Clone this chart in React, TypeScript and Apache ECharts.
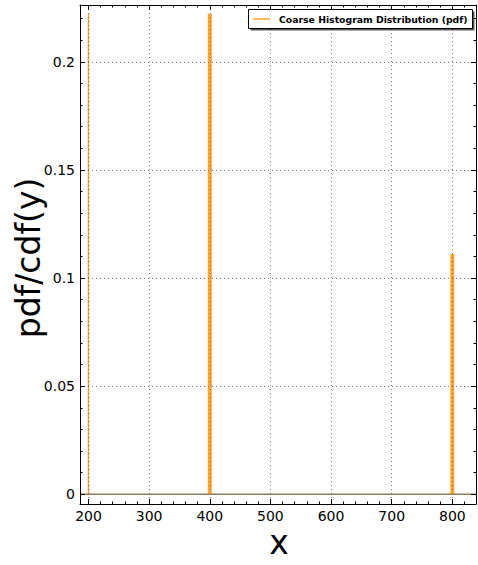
import React, { useEffect, useRef } from "react";
import * as echarts from "echarts";

// Data
const binCenters: number[] = [200, 400, 800];
const pdfValues: number[] = [0.2222, 0.2222, 0.1111];
const seriesName = "Coarse Histogram Distribution (pdf)";
const xRange: number[] = [186, 839];
const yRange: number[] = [-0.0045, 0.2263];
const xTitle = "x";
const yTitle = "pdf/cdf(y)";

const ORANGE = "#ff8c00";
const FONT = "DejaVu Sans";

export default function App() {
  const ref = useRef<HTMLDivElement>(null);
  useEffect(() => {
    if (!ref.current) return;
    const chart = echarts.init(ref.current, undefined, { renderer: "svg" });
    const gridLine = { show: true, lineStyle: { color: "#777", type: [1, 3] as any, width: 1 } };
    const axisLineBlack = { show: true, onZero: false, lineStyle: { color: "#000", width: 1 } };
    const majorTick = { show: true, inside: true, length: 5, lineStyle: { color: "#000" } };
    const minorTick = { show: true, splitNumber: 5, length: 2.5, lineStyle: { color: "#000" } };

    const data = binCenters.map((x, i) => [x, pdfValues[i]]);

    chart.setOption({
      animation: false,
      backgroundColor: "#fff",
      grid: { left: 80, right: 2, top: 5, bottom: 61, containLabel: false },
      xAxis: [
        {
          type: "value",
          position: "bottom",
          min: xRange[0],
          max: xRange[1],
          splitNumber: 6,
          axisLine: axisLineBlack,
          axisTick: majorTick,
          minorTick: minorTick,
          splitLine: gridLine,
          axisLabel: {
            show: true,
            color: "#000",
            fontFamily: FONT,
            fontSize: 14,
            margin: 5,
            showMinLabel: false,
            showMaxLabel: false,
          },
        },
        {
          type: "value",
          position: "top",
          min: xRange[0],
          max: xRange[1],
          splitNumber: 6,
          axisLine: axisLineBlack,
          axisTick: majorTick,
          minorTick: minorTick,
          splitLine: { show: false },
          axisLabel: { show: false },
        },
      ],
      yAxis: [
        {
          type: "value",
          position: "left",
          min: yRange[0],
          max: yRange[1],
          splitNumber: 5,
          axisLine: axisLineBlack,
          axisTick: majorTick,
          minorTick: minorTick,
          splitLine: gridLine,
          axisLabel: {
            show: true,
            color: "#000",
            fontFamily: FONT,
            fontSize: 14,
            margin: 5,
            showMinLabel: false,
            showMaxLabel: false,
          },
        },
        {
          type: "value",
          position: "right",
          min: yRange[0],
          max: yRange[1],
          splitNumber: 5,
          axisLine: axisLineBlack,
          axisTick: majorTick,
          minorTick: minorTick,
          splitLine: { show: false },
          axisLabel: { show: false },
        },
      ],
      series: [
        {
          name: seriesName,
          type: "custom",
          xAxisIndex: 0,
          yAxisIndex: 0,
          z: -1,
          data,
          renderItem: (params: any, api: any) => {
            const top = api.coord([api.value(0), api.value(1)]);
            const base = api.coord([api.value(0), 0]);
            const w = params.dataIndex === 0 ? 1.5 : 4;
            const children: any[] = [
              {
                type: "rect",
                shape: { x: top[0] - w / 2, y: top[1], width: w, height: base[1] - top[1] },
                style: { fill: "rgba(255,140,0,0.8)", stroke: null },
              },
            ];
            if (params.dataIndex === 0) {
              const cs = params.coordSys;
              children.push({
                type: "line",
                shape: { x1: cs.x, y1: base[1], x2: cs.x + cs.width, y2: base[1] },
                style: { stroke: "#9a7b58", lineWidth: 1.5 },
              });
            }
            return { type: "group", children };
          },
        },
      ],
      graphic: [
        {
          type: "rect",
          z: 10,
          shape: { x: 250.5, y: 11.5, width: 224, height: 19 },
          style: { fill: "rgba(0,0,0,0.65)" },
        },
        {
          type: "rect",
          z: 11,
          shape: { x: 248.5, y: 9.5, width: 224, height: 19 },
          style: { fill: "#fff", stroke: "#000", lineWidth: 1 },
        },
        {
          type: "line",
          z: 12,
          shape: { x1: 253, y1: 19, x2: 270, y2: 19 },
          style: { stroke: ORANGE, lineWidth: 1.2 },
        },
        {
          type: "text",
          z: 12,
          x: 279,
          y: 19.5,
          style: {
            text: seriesName,
            fontFamily: FONT,
            fontWeight: "bold",
            fontSize: 9.3,
            fill: "#000",
            textAlign: "left",
            textVerticalAlign: "middle",
          },
        },
        {
          type: "text",
          x: 279,
          y: 542,
          style: {
            text: xTitle,
            fontFamily: FONT,
            fontSize: 33,
            fill: "#000",
            textAlign: "center",
            textVerticalAlign: "middle",
          },
        },
        {
          type: "text",
          x: 28,
          y: 258,
          rotation: Math.PI / 2,
          style: {
            text: yTitle,
            fontFamily: FONT,
            fontSize: 33,
            fill: "#000",
            textAlign: "center",
            textVerticalAlign: "middle",
          },
        },
      ],
    });
    return () => chart.dispose();
  }, []);
  return (
    <div
      ref={ref}
      style={{ position: "fixed", left: 0, top: 0, width: 478, height: 565, background: "#fff" }}
    />
  );
}
